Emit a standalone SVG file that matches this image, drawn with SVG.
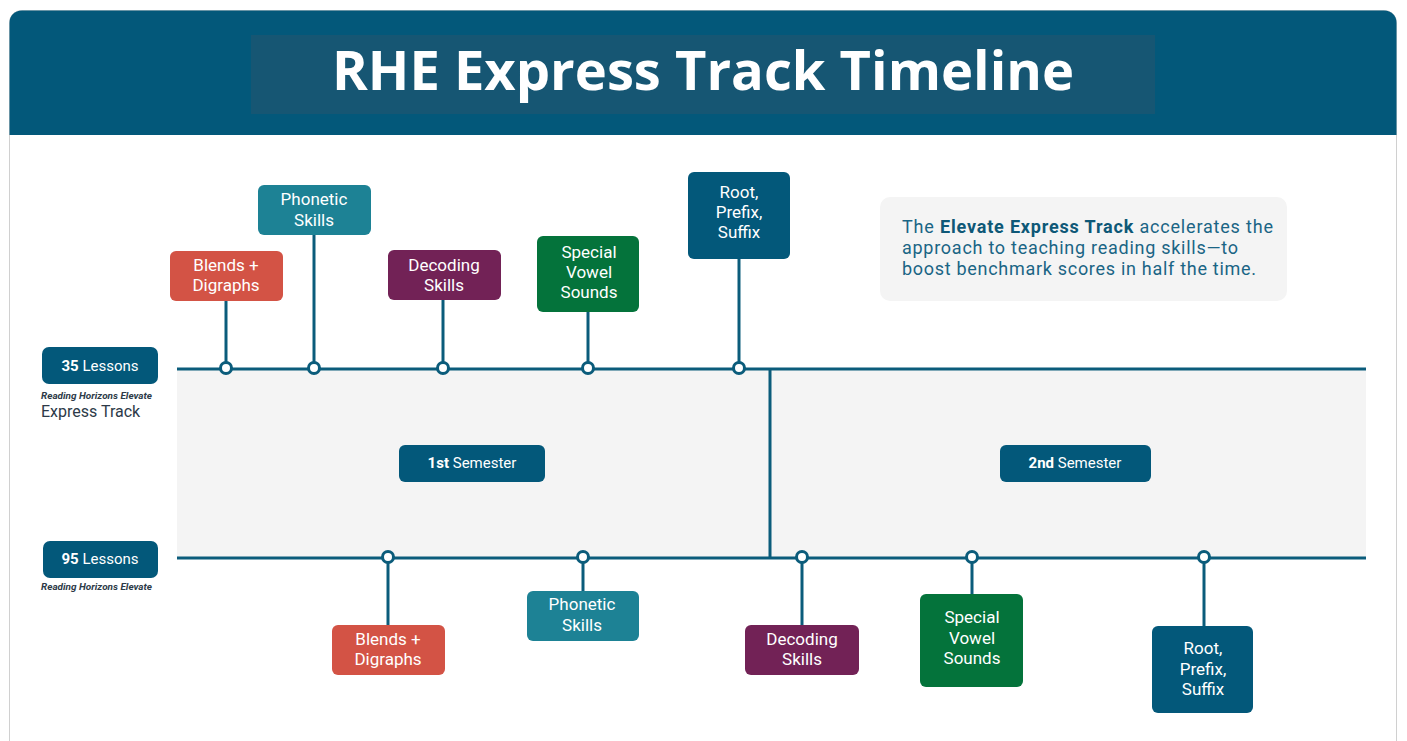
<svg xmlns="http://www.w3.org/2000/svg" width="1407" height="741" viewBox="0 0 1407 741">
<style>
text{font-family:"Roboto","Liberation Sans",sans-serif;}
.n{fill:#fff;font-size:17px;text-anchor:middle;}
.ln{stroke:#0b5c7b;stroke-width:3;fill:none;}
.dot{fill:#fff;stroke:#0b5c7b;stroke-width:3;}
.lab{fill:#03587a;}
.lt{fill:#fff;font-size:15px;text-anchor:middle;}
.sub{fill:#2d3a48;font-size:9.5px;font-style:italic;font-weight:700;}
.info{fill:#1a6585;font-size:18px;}
</style>
<rect x="0" y="0" width="1407" height="741" fill="#fff"/>
<g id="card">
<rect x="9.5" y="10.5" width="1387" height="760" rx="12" fill="#fff" stroke="#d0d0d0"/>
<path d="M9.5 135 V22.5 A12 12 0 0 1 21.5 10.5 H1384.5 A12 12 0 0 1 1396.5 22.5 V135 Z" fill="#03587a"/>
<rect x="251" y="35" width="904" height="79" fill="#165673"/>
<text x="703" y="90" fill="#fff" font-size="54" font-weight="700" text-anchor="middle" textLength="742" lengthAdjust="spacingAndGlyphs" style="font-family:'Open Sans','Liberation Sans',sans-serif">RHE Express Track Timeline</text>
</g>
<g id="band">
<rect x="177" y="369" width="1189" height="189" fill="#f4f4f4"/>
</g>
<g id="connectors">
<line class="ln" x1="177" y1="369" x2="1366" y2="369"/>
<line class="ln" x1="177" y1="558" x2="1366" y2="558"/>
<line class="ln" x1="770" y1="369" x2="770" y2="558"/>
<line class="ln" x1="226" y1="300" x2="226" y2="369"/>
<line class="ln" x1="314" y1="234" x2="314" y2="369"/>
<line class="ln" x1="443" y1="299" x2="443" y2="369"/>
<line class="ln" x1="588" y1="311" x2="588" y2="369"/>
<line class="ln" x1="739" y1="258" x2="739" y2="369"/>
<line class="ln" x1="388" y1="558" x2="388" y2="626"/>
<line class="ln" x1="583" y1="558" x2="583" y2="592"/>
<line class="ln" x1="802" y1="558" x2="802" y2="626"/>
<line class="ln" x1="972" y1="558" x2="972" y2="595"/>
<line class="ln" x1="1204" y1="558" x2="1204" y2="627"/>
<circle class="dot" cx="226" cy="368" r="5.5"/>
<circle class="dot" cx="314" cy="368" r="5.5"/>
<circle class="dot" cx="443" cy="368" r="5.5"/>
<circle class="dot" cx="588" cy="368" r="5.5"/>
<circle class="dot" cx="739" cy="368" r="5.5"/>
<circle class="dot" cx="388" cy="557" r="5.5"/>
<circle class="dot" cx="583" cy="557" r="5.5"/>
<circle class="dot" cx="802" cy="557" r="5.5"/>
<circle class="dot" cx="972" cy="557" r="5.5"/>
<circle class="dot" cx="1204" cy="557" r="5.5"/>
</g>
<g id="t-blends">
<rect x="170" y="251" width="113" height="50" rx="6" fill="#d35345"/>
<text class="n" x="226" y="271">Blends +</text><text class="n" x="226" y="291">Digraphs</text>
</g>
<g id="t-phonetic">
<rect x="258" y="185" width="113" height="50" rx="6" fill="#1d8295"/>
<text class="n" x="314" y="205">Phonetic</text><text class="n" x="314" y="226">Skills</text>
</g>
<g id="t-decoding">
<rect x="388" y="250" width="113" height="50" rx="6" fill="#722256"/>
<text class="n" x="444" y="271">Decoding</text><text class="n" x="444" y="291">Skills</text>
</g>
<g id="t-vowel">
<rect x="537" y="236" width="102" height="76" rx="6" fill="#04733b"/>
<text class="n" x="589" y="258">Special</text><text class="n" x="589" y="278">Vowel</text><text class="n" x="589" y="298">Sounds</text>
</g>
<g id="t-root">
<rect x="688" y="172" width="102" height="87" rx="6" fill="#03587a"/>
<text class="n" x="739" y="198">Root,</text><text class="n" x="739" y="218">Prefix,</text><text class="n" x="739" y="238">Suffix</text>
</g>
<g id="b-blends">
<rect x="332" y="625" width="113" height="50" rx="6" fill="#d35345"/>
<text class="n" x="388" y="645">Blends +</text><text class="n" x="388" y="665">Digraphs</text>
</g>
<g id="b-phonetic">
<rect x="527" y="591" width="112" height="50" rx="6" fill="#1d8295"/>
<text class="n" x="582" y="610">Phonetic</text><text class="n" x="582" y="631">Skills</text>
</g>
<g id="b-decoding">
<rect x="745" y="625" width="114" height="50" rx="6" fill="#722256"/>
<text class="n" x="802" y="645">Decoding</text><text class="n" x="802" y="665">Skills</text>
</g>
<g id="b-vowel">
<rect x="920" y="594" width="103" height="93" rx="6" fill="#04733b"/>
<text class="n" x="972" y="623">Special</text><text class="n" x="972" y="644">Vowel</text><text class="n" x="972" y="664">Sounds</text>
</g>
<g id="b-root">
<rect x="1152" y="626" width="101" height="87" rx="6" fill="#03587a"/>
<text class="n" x="1203" y="654">Root,</text><text class="n" x="1203" y="675">Prefix,</text><text class="n" x="1203" y="695">Suffix</text>
</g>
<g id="lessons35">
<rect class="lab" x="42" y="347" width="116" height="37" rx="7"/>
<text class="lt" x="100" y="371"><tspan font-weight="700">35</tspan> Lessons</text>
<text class="sub" x="41" y="399" textLength="111" lengthAdjust="spacingAndGlyphs">Reading Horizons Elevate</text>
<text x="41" y="417" fill="#2d3a48" font-size="16">Express Track</text>
</g>
<g id="lessons95">
<rect class="lab" x="43" y="541" width="115" height="37" rx="7"/>
<text class="lt" x="100" y="564"><tspan font-weight="700">95</tspan> Lessons</text>
<text class="sub" x="41" y="590" textLength="111" lengthAdjust="spacingAndGlyphs">Reading Horizons Elevate</text>
</g>
<g id="sem1">
<rect class="lab" x="399" y="445" width="146" height="37" rx="6"/>
<text class="lt" x="472" y="468"><tspan font-weight="700">1st</tspan> Semester</text>
</g>
<g id="sem2">
<rect class="lab" x="1000" y="445" width="151" height="37" rx="6"/>
<text class="lt" x="1075" y="468"><tspan font-weight="700">2nd</tspan> Semester</text>
</g>
<g id="info">
<rect x="880" y="197" width="407" height="104" rx="10" fill="#f4f4f4"/>
<text class="info" x="902" y="233" textLength="371">The <tspan font-weight="700" fill="#0e5877">Elevate Express Track</tspan> accelerates the</text>
<text class="info" x="902" y="254" textLength="336">approach to teaching reading skills—to</text>
<text class="info" x="902" y="275" textLength="354">boost benchmark scores in half the time.</text>
</g>
</svg>
